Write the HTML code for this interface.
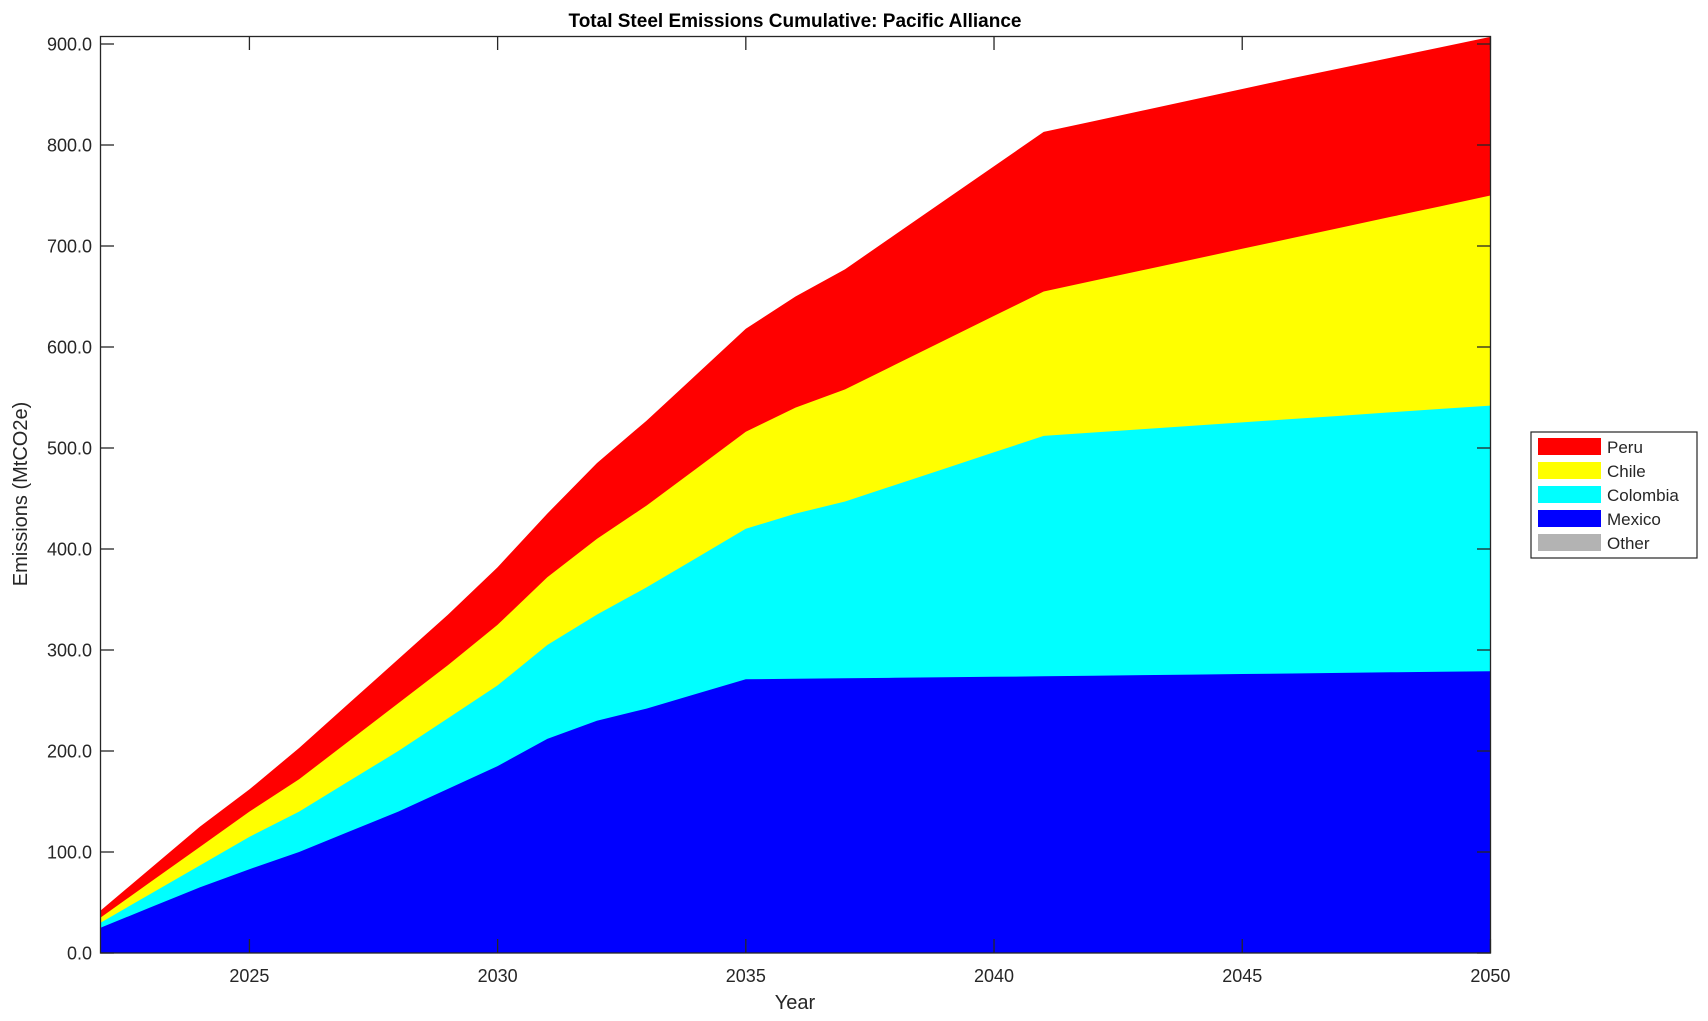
<!DOCTYPE html>
<html><head><meta charset="utf-8"><style>
html,body{margin:0;padding:0;background:#fff;width:1708px;height:1021px;overflow:hidden}
svg text{font-family:"Liberation Sans",Arial,sans-serif;fill:#262626}
</style></head><body>
<svg id="s" width="1708" height="1021" xmlns="http://www.w3.org/2000/svg">
<g id="areas"></g>
<rect x="100.5" y="36.5" width="1390" height="916.5" fill="none" stroke="#262626" stroke-width="1.3"/>
<g id="ticks" stroke="#262626" stroke-width="1.3"></g>
<g id="labels" font-size="18"></g>
<text x="795" y="27" font-size="19" font-weight="bold" text-anchor="middle" style="fill:#000">Total Steel Emissions Cumulative: Pacific Alliance</text>
<text x="795" y="1009" font-size="20" text-anchor="middle">Year</text>
<text transform="translate(27,494) rotate(-90)" font-size="20" text-anchor="middle">Emissions (MtCO2e)</text>
<rect x="1531" y="432" width="166" height="126" fill="#fff" stroke="#262626" stroke-width="1.2"/>
<rect x="1538" y="438" width="63" height="17" fill="#f00"/>
<rect x="1538" y="462" width="63" height="17" fill="#ff0"/>
<rect x="1538" y="486" width="63" height="17" fill="#0ff"/>
<rect x="1538" y="510" width="63" height="17" fill="#00f"/>
<rect x="1538" y="534" width="63" height="17" fill="#b3b3b3"/>
<g font-size="17" style="fill:#000">
<text x="1607" y="453">Peru</text>
<text x="1607" y="477">Chile</text>
<text x="1607" y="501">Colombia</text>
<text x="1607" y="525">Mexico</text>
<text x="1607" y="549">Other</text>
</g>
</svg>
<script>
var X=function(t){return 100.5+(t-2022)*49.64;};
var Y=function(v){return 953-v*1.01;};
function interp(pts){var o={};for(var i=0;i<pts.length-1;i++){var a=pts[i],b=pts[i+1];for(var t=a[0];t<b[0];t++){o[t]=a[1]+(b[1]-a[1])*(t-a[0])/(b[0]-a[0]);}}o[pts[pts.length-1][0]]=pts[pts.length-1][1];return o;}
var mex=interp([[2022,25],[2024,65],[2025,83],[2026,100],[2028,140],[2030,185],[2031,212],[2032,230],[2033,242],[2035,271],[2041,274],[2050,279]]);
var col=interp([[2022,30],[2025,115],[2026,140],[2028,200],[2030,265],[2031,305],[2032,335],[2033,362],[2035,420],[2036,435],[2037,447],[2041,512],[2050,542]]);
var chi=interp([[2022,35],[2024,105],[2025,140],[2026,172],[2029,285],[2030,325],[2031,372],[2032,410],[2033,443],[2035,516],[2036,540],[2037,558],[2041,655],[2050,750]]);
var per=interp([[2022,42],[2024,125],[2025,162],[2026,203],[2029,335],[2030,382],[2031,435],[2032,485],[2033,527],[2035,618],[2036,650],[2037,677],[2041,813],[2046,866],[2050,907]]);
var g=document.getElementById('areas'),ns="http://www.w3.org/2000/svg";
[[per,'#f00'],[chi,'#ff0'],[col,'#0ff'],[mex,'#00f']].forEach(function(s){
 var p=[X(2022)+','+Y(0)];for(var t=2022;t<=2050;t++)p.push(X(t).toFixed(1)+','+Y(s[0][t]).toFixed(1));p.push(X(2050)+','+Y(0));
 var e=document.createElementNS(ns,'polygon');e.setAttribute('points',p.join(' '));e.setAttribute('fill',s[1]);g.appendChild(e);});
var tk=document.getElementById('ticks'),lb=document.getElementById('labels');
function line(x1,y1,x2,y2){var e=document.createElementNS(ns,'line');e.setAttribute('x1',x1);e.setAttribute('y1',y1);e.setAttribute('x2',x2);e.setAttribute('y2',y2);tk.appendChild(e);}
function txt(x,y,s,a){var e=document.createElementNS(ns,'text');e.setAttribute('x',x);e.setAttribute('y',y);e.setAttribute('text-anchor',a);e.textContent=s;lb.appendChild(e);}
for(var v=0;v<=900;v+=100){var y=Y(v);line(100.5,y,114,y);line(1490.5,y,1477,y);txt(92,y+6.5,v.toFixed(1),'end');}
for(var t=2025;t<=2050;t+=5){var x=X(t);line(x,953,x,939);line(x,36.5,x,50);txt(x,982,String(t),'middle');}
</script>
</body></html>
